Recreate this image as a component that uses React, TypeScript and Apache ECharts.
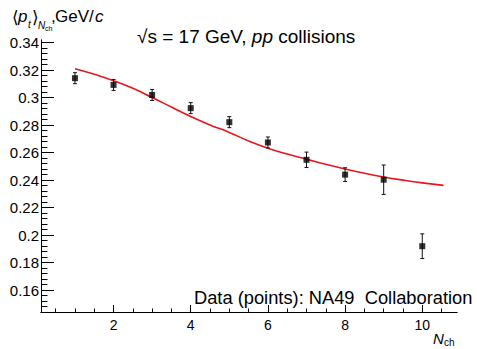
import React, { useEffect, useRef } from "react";
import * as echarts from "echarts";

// Data
const nch = [1, 2, 3, 4, 5, 6, 7, 8, 9, 10];
const meanPt = [0.3142, 0.3093, 0.302, 0.2924, 0.2822, 0.2674, 0.2548, 0.244, 0.2403, 0.1919];
const ptErr = [0.004, 0.004, 0.004, 0.004, 0.004, 0.004, 0.0056, 0.005, 0.0107, 0.009];

const curveX = [1, 1.5, 2, 2.5, 3, 3.5, 4, 4.5, 5, 5.5, 6, 6.5, 7, 7.5, 8, 8.5, 9, 9.5, 10, 10.55];
const curveY = [0.321, 0.317, 0.3124, 0.3068, 0.3001, 0.2932, 0.2863, 0.2802, 0.2747, 0.2685, 0.2632, 0.259, 0.2553, 0.2515, 0.2481, 0.245, 0.2423, 0.24, 0.238, 0.2362];

const xMajorTicks = [2, 4, 6, 8, 10];
const xMinorTicks = [0.5, 1, 1.5, 2.5, 3, 3.5, 4.5, 5, 5.5, 6.5, 7, 7.5, 8.5, 9, 9.5, 10.5];
const yMajorTicks = [0.16, 0.18, 0.2, 0.22, 0.24, 0.26, 0.28, 0.3, 0.32, 0.34];
const yMinorTicks: number[] = [];
for (let i = 37; i <= 85; i++) yMinorTicks.push(Math.round(i * 4) / 1000);

const X_MIN = 0.12;
const X_MAX = 10.9;
const Y_MIN = 0.144;
const Y_MAX = 0.342;

const FONT = "'Liberation Sans', Arial, Helvetica, sans-serif";

export default function App() {
  const ref = useRef<HTMLDivElement>(null);

  useEffect(() => {
    if (!ref.current) return;
    const chart = echarts.init(ref.current, undefined, { renderer: "svg" });

    const baseX = {
      type: "value" as const,
      min: X_MIN,
      max: X_MAX,
      position: "bottom" as const,
      splitLine: { show: false },
      axisLine: { show: true, onZero: false, lineStyle: { color: "#000", width: 1 } },
    };
    const baseY = {
      type: "value" as const,
      min: Y_MIN,
      max: Y_MAX,
      position: "left" as const,
      splitLine: { show: false },
      axisLine: { show: true, onZero: false, lineStyle: { color: "#000", width: 1 } },
    };

    const txt = (text: string, x: number, y: number, size: number, italic = false) => ({
      type: "text",
      x,
      y,
      silent: true,
      style: {
        text,
        fill: "#000",
        fontSize: size,
        fontFamily: FONT,
        fontStyle: italic ? "italic" : "normal",
        align: "left",
        verticalAlign: "middle",
      },
    });

    chart.setOption({
      animation: false,
      backgroundColor: "#fff",
      grid: { left: 41, right: 20, top: 40, bottom: 37, containLabel: false },
      xAxis: [
        {
          ...baseX,
          axisTick: { show: true, inside: true, length: 3.5, customValues: xMinorTicks, lineStyle: { color: "#000" } },
          axisLabel: { show: false },
        },
        {
          ...baseX,
          axisTick: { show: true, inside: true, length: 7, customValues: xMajorTicks, lineStyle: { color: "#000" } },
          axisLabel: {
            show: true,
            customValues: xMajorTicks,
            color: "#000",
            fontSize: 14,
            fontFamily: FONT,
            margin: 6,
          },
        },
      ],
      yAxis: [
        {
          ...baseY,
          axisTick: { show: true, inside: true, length: 6.5, customValues: yMinorTicks, lineStyle: { color: "#000" } },
          axisLabel: { show: false },
        },
        {
          ...baseY,
          offset: 0,
          axisTick: { show: true, inside: true, length: 13, customValues: yMajorTicks, lineStyle: { color: "#000" } },
          axisLabel: {
            show: true,
            customValues: yMajorTicks,
            color: "#000",
            fontSize: 15,
            fontFamily: FONT,
            margin: 2,
            formatter: (v: number) => String(Math.round(v * 1000) / 1000),
          },
        },
      ],
      series: [
        {
          type: "line",
          name: "model",
          xAxisIndex: 0,
          yAxisIndex: 0,
          data: curveX.map((x, i) => [x, curveY[i]]),
          smooth: true,
          showSymbol: false,
          lineStyle: { color: "#e8161b", width: 1.6 },
          z: 2,
        },
        {
          type: "custom",
          name: "errors",
          xAxisIndex: 0,
          yAxisIndex: 0,
          data: nch.map((x, i) => [x, meanPt[i], ptErr[i]]),
          renderItem: (params: any, api: any) => {
            const x = api.value(0);
            const y = api.value(1);
            const e = api.value(2);
            const top = api.coord([x, y + e]);
            const bot = api.coord([x, y - e]);
            const st = { stroke: "#111", lineWidth: 1 };
            return {
              type: "group",
              children: [
                { type: "line", shape: { x1: top[0], y1: top[1], x2: bot[0], y2: bot[1] }, style: st },
                { type: "line", shape: { x1: top[0] - 2, y1: top[1], x2: top[0] + 2, y2: top[1] }, style: st },
                { type: "line", shape: { x1: bot[0] - 2, y1: bot[1], x2: bot[0] + 2, y2: bot[1] }, style: st },
              ],
            };
          },
          z: 3,
        },
        {
          type: "scatter",
          name: "NA49",
          xAxisIndex: 0,
          yAxisIndex: 0,
          data: nch.map((x, i) => [x, meanPt[i]]),
          symbol: "rect",
          symbolSize: 6,
          itemStyle: { color: "#000" },
          z: 4,
        },
      ],
      graphic: [
        txt("⟨", 12, 17, 17),
        txt("p", 18, 16, 17, true),
        txt("t", 28, 24, 10, true),
        txt("⟩", 31.5, 17, 17),
        txt("N", 38, 25, 10, true),
        txt("ch", 45, 28, 7),
        txt(",", 51, 16, 17),
        txt("GeV/", 55, 16, 17),
        txt("c", 95, 16, 17, true),
        {
          type: "text",
          x: 137,
          y: 36,
          silent: true,
          style: {
            text: "{n|√s = 17 GeV, }{i|pp}{n| collisions}",
            fill: "#000",
            fontSize: 19,
            fontFamily: FONT,
            align: "left",
            verticalAlign: "middle",
            rich: {
              n: { fontSize: 19, fontFamily: FONT, fill: "#000" },
              i: { fontSize: 19, fontFamily: FONT, fontStyle: "italic", fill: "#000" },
            },
          },
        },
        txt("Data (points): NA49  Collaboration", 194, 297, 18.3),
        txt("N", 433, 338, 15, true),
        txt("ch", 444, 342, 10),
      ],
    });

    return () => chart.dispose();
  }, []);

  return (
    <div
      ref={ref}
      style={{ position: "absolute", left: 0, top: 0, width: 477, height: 349, background: "#fff" }}
    />
  );
}
